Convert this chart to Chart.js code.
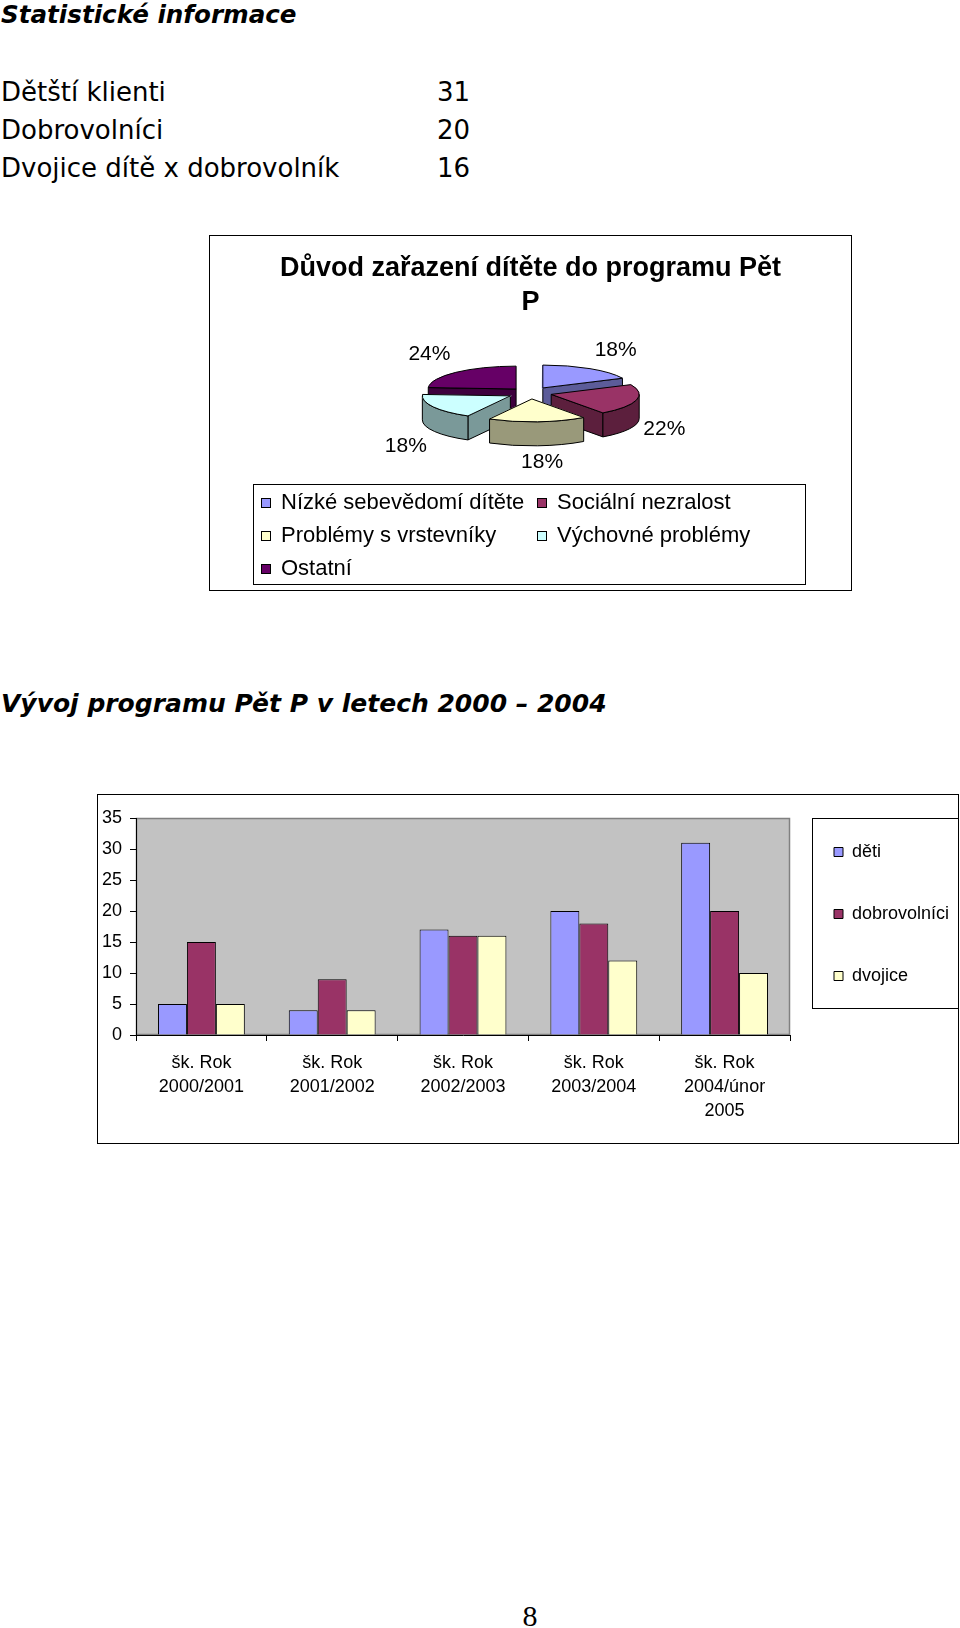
<!DOCTYPE html>
<html lang="cs">
<head>
<meta charset="utf-8">
<title>Statistické informace</title>
<script src="https://cdn.jsdelivr.net/npm/chart.js@4.4.1/dist/chart.umd.min.js"></script>
<style>
  html, body { margin: 0; padding: 0; background: #fff; }
  body { width: 960px; height: 1628px; position: relative; overflow: hidden; color: #000; }
  .head { position: absolute; left: 1px; margin: 0; white-space: nowrap;
          font: italic bold 24px/28px "DejaVu Sans", sans-serif; }
  .stat { position: absolute; left: 1px; width: 469px; display: flex; justify-content: space-between;
          font: 26px/30px "DejaVu Sans", sans-serif; white-space: nowrap; }
  .box { position: absolute; border: 1px solid #000; background: #fff; }
  .box canvas { position: absolute; left: 0; top: 0; }
  #pieLegend { position: absolute; left: 43px; top: 248px; width: 544px; height: 99px;
               border: 1px solid #000; padding: 0 0 0 7px;
               display: grid; grid-template-columns: 276px auto; grid-auto-rows: 33px;
               font: 22px/33px "Liberation Sans", Arial, sans-serif; white-space: nowrap; }
  #pieLegend i { display: inline-block; width: 8px; height: 8px; border: 1px solid #000;
                 margin-right: 10px; vertical-align: 1px; }
  #page { position: absolute; left: 0; width: 1060px; text-align: center; top: 1599px;
          font: 30px/33px "Liberation Serif", "Times New Roman", serif; }
</style>
</head>
<body>

<h1 class="head" style="top:1px; font-size:24.6px">Statistické informace</h1>
<div id="stats"></div>

<div class="box" id="pieBox" style="left:209px; top:235px; width:641px; height:354px;">
  <canvas id="pie" width="641" height="257"></canvas>
  <div id="pieLegend"></div>
</div>

<h2 class="head" style="top:690px; font-size:25px">Vývoj programu Pět P v letech 2000 – 2004</h2>

<div class="box" id="barBox" style="left:97px; top:794px; width:860px; height:348px;">
  <canvas id="bar" width="860" height="348"></canvas>
</div>

<div id="page">8</div>

<script>
// souhrnná čísla
const statLabels = ['Dětští klienti', 'Dobrovolníci', 'Dvojice dítě x dobrovolník'];
const statValues = [31, 20, 16];

// koláč - důvod zařazení
const pieLabels = ['Nízké sebevědomí dítěte', 'Sociální nezralost', 'Problémy s vrstevníky',
                   'Výchovné problémy', 'Ostatní'];
const pieValues = [18, 22, 18, 18, 24];

// sloupce - vývoj programu
const barLabels = [['šk. Rok', '2000/2001'], ['šk. Rok', '2001/2002'], ['šk. Rok', '2002/2003'],
                   ['šk. Rok', '2003/2004'], ['šk. Rok', '2004/únor', '2005']];
const deti = [5, 4, 17, 20, 31];
const dobrovolnici = [15, 9, 16, 18, 20];
const dvojice = [5, 4, 16, 12, 10];
const yTicks = [0, 5, 10, 15, 20, 25, 30, 35];

const pieColors = ['#9999FF', '#993366', '#FFFFCC', '#CCFFFF', '#660066'];
const pieSides = ['#5C5C99', '#5C1F3D', '#99997A', '#7A9999', '#3D003D'];
const SQUISH = 0.26;   // vertical flattening of the pie
const DEPTH = 24;      // thickness of the pie in px

Chart.defaults.font.family = '"Liberation Sans", Arial, sans-serif';
Chart.defaults.color = '#000';

function init() {
  let stats = document.getElementById('stats');
  for (let i = 0; i < statLabels.length; i++) {
    stats.innerHTML += '<div class="stat" style="top:' + (77 + i * 38) + 'px"><span>' +
      statLabels[i] + '</span><span>' + statValues[i] + '</span></div>';
  }

  let legend = document.getElementById('pieLegend');
  for (let i = 0; i < pieLabels.length; i++) {
    legend.innerHTML += '<div><i style="background:' + pieColors[i] + '"></i>' + pieLabels[i] + '</div>';
  }

  drawPie();
  drawBars();
}

function slice(arc) {
  // same displacement the arc element applies for its offset
  let mid = (arc.startAngle + arc.endAngle) / 2;
  let circ = arc.endAngle - arc.startAngle;
  let off = (arc.options.offset || 0) / 4;
  let t = off * (2 - Math.sin(Math.min(Math.PI, circ)));
  return {
    x: arc.x + Math.cos(mid) * t,
    y: arc.y + Math.sin(mid) * t * SQUISH,
    r: arc.outerRadius, s: arc.startAngle, e: arc.endAngle, mid: mid, t: t
  };
}

function clamp(v, lo, hi) {
  return Math.max(lo, Math.min(hi, v));
}

const pie3d = {
  id: 'pie3d',
  beforeDatasetsDraw(chart) {
    let ctx = chart.ctx;
    let arcs = chart.getDatasetMeta(0).data;
    let order = arcs.map((a, i) => i).sort((a, b) => {
      return Math.sin(slice(arcs[a]).mid) - Math.sin(slice(arcs[b]).mid);
    });
    ctx.save();
    ctx.strokeStyle = '#000';
    ctx.lineWidth = 1;
    ctx.lineJoin = 'round';
    for (let i of order) {
      let p = slice(arcs[i]);
      let ry = p.r * SQUISH;
      ctx.fillStyle = pieSides[i];
      // radial walls
      [[p.s, Math.cos(p.s) < -0.01], [p.e, Math.cos(p.e) > 0.01]].forEach(([a, visible]) => {
        if (!visible) return;
        let ex = p.x + Math.cos(a) * p.r, ey = p.y + Math.sin(a) * ry;
        ctx.beginPath();
        ctx.moveTo(p.x, p.y);
        ctx.lineTo(ex, ey);
        ctx.lineTo(ex, ey + DEPTH);
        ctx.lineTo(p.x, p.y + DEPTH);
        ctx.closePath();
        ctx.fill();
        ctx.stroke();
      });
      // curved wall, front half only
      let vs = Math.max(p.s, 0), ve = Math.min(p.e, Math.PI);
      if (vs < ve) {
        ctx.beginPath();
        ctx.ellipse(p.x, p.y, p.r, ry, 0, vs, ve);
        ctx.ellipse(p.x, p.y + DEPTH, p.r, ry, 0, ve, vs, true);
        ctx.closePath();
        ctx.fill();
        ctx.stroke();
      }
    }
    ctx.restore();

    // flatten the top faces drawn by chart.js
    let cy = arcs[0].y;
    ctx.save();
    ctx.translate(0, cy);
    ctx.scale(1, SQUISH);
    ctx.translate(0, -cy);
  },
  afterDatasetsDraw(chart) {
    let ctx = chart.ctx;
    ctx.restore();
    let arcs = chart.getDatasetMeta(0).data;
    let total = pieValues.reduce((a, b) => a + b, 0);
    ctx.save();
    ctx.strokeStyle = '#000';
    ctx.lineWidth = 1;
    ctx.lineJoin = 'round';
    ctx.font = '21px "Liberation Sans", Arial, sans-serif';
    ctx.fillStyle = '#000';
    ctx.textAlign = 'center';
    ctx.textBaseline = 'middle';
    arcs.forEach((arc, i) => {
      let p = slice(arc);
      ctx.beginPath();
      ctx.moveTo(p.x, p.y);
      ctx.ellipse(p.x, p.y, p.r, p.r * SQUISH, 0, p.s, p.e);
      ctx.closePath();
      ctx.stroke();

      let text = Math.round(pieValues[i] / total * 100) + '%';
      let hw = ctx.measureText(text).width / 2 + 2;
      let c = Math.cos(p.mid), s = Math.sin(p.mid);
      let R = p.r + p.t + 5;
      let lx = arc.x + c * R + hw * clamp(3 * c, -1, 1);
      let ly = arc.y + s * R * SQUISH + DEPTH * clamp(3 * s, 0, 1) + (s < 0 ? 17 : 15) * clamp(3 * s, -1, 1);
      ctx.fillText(text, lx, ly);
    });
    ctx.restore();
  }
};

function drawPie() {
  let ctx = document.getElementById('pie').getContext('2d');
  new Chart(ctx, {
    type: 'pie',
    data: {
      labels: pieLabels,
      datasets: [{
        data: pieValues,
        backgroundColor: pieColors,
        borderWidth: 0,
        offset: 84
      }]
    },
    options: {
      responsive: false,
      animation: false,
      events: [],
      radius: 88,
      layout: {padding: {top: 0, bottom: 27}},
      plugins: {
        legend: {display: false},
        tooltip: {enabled: false},
        title: {
          display: true,
          text: ['Důvod zařazení dítěte do programu Pět', 'P'],
          color: '#000',
          font: {size: 27, weight: 'bold', lineHeight: 34 / 27},
          padding: {top: 16, bottom: 0}
        }
      }
    },
    plugins: [pie3d]
  });
}

const plotBg = {
  id: 'plotBg',
  beforeDraw(chart) {
    let {ctx, chartArea: a} = chart;
    ctx.save();
    ctx.fillStyle = '#C2C2C2';
    ctx.fillRect(a.left, a.top, a.right - a.left, a.bottom - a.top);
    ctx.strokeStyle = '#808080';
    ctx.lineWidth = 1.5;
    ctx.strokeRect(a.left + 0.5, a.top + 0.5, a.right - a.left - 1, a.bottom - a.top - 1);
    ctx.restore();
  }
};

const legendFrame = {
  id: 'legendFrame',
  afterLayout(chart) {
    // the legend items sit higher than chart.js would centre them
    chart.legend.top = chart.chartArea.top - 19;
  },
  afterDraw(chart) {
    let {ctx, chartArea: a, legend} = chart;
    let boxes = legend.legendHitBoxes;
    let last = boxes[boxes.length - 1];
    let x0 = a.right + 22.5, y0 = a.top + 0.5;
    let y1 = last.top + last.height + 23.5;
    ctx.save();
    ctx.strokeStyle = '#000';
    ctx.lineWidth = 1;
    ctx.strokeRect(x0, y0, chart.width - x0 + 5, y1 - y0);
    ctx.restore();
  }
};

function drawBars() {
  let ctx = document.getElementById('bar').getContext('2d');
  let series = [['děti', deti, '#9999FF'], ['dobrovolníci', dobrovolnici, '#993366'], ['dvojice', dvojice, '#FFFFCC']];
  new Chart(ctx, {
    type: 'bar',
    data: {
      labels: barLabels,
      datasets: series.map(s => ({
        label: s[0],
        data: s[1],
        backgroundColor: s[2],
        borderColor: '#000',
        borderWidth: 1,
        barPercentage: 1,
        categoryPercentage: 0.664
      }))
    },
    options: {
      responsive: false,
      animation: false,
      events: [],
      layout: {padding: {top: 23, left: 0, right: 0, bottom: 0}},
      scales: {
        x: {
          grid: {display: true, drawOnChartArea: false, drawTicks: true, tickLength: 6, color: '#000'},
          border: {color: '#000', width: 1},
          ticks: {font: {size: 18, lineHeight: 24 / 18}, padding: 10, maxRotation: 0, autoSkip: false},
          afterFit(scale) { scale.height = 108; }
        },
        y: {
          min: 0,
          max: 35,
          afterBuildTicks(scale) { scale.ticks = yTicks.map(v => ({value: v})); },
          grid: {display: true, drawOnChartArea: false, drawTicks: true, tickLength: 6, color: '#000'},
          border: {color: '#000', width: 1},
          ticks: {font: {size: 18}, padding: 8},
          afterFit(scale) { scale.width = 38; }
        }
      },
      plugins: {
        tooltip: {enabled: false},
        legend: {
          position: 'right',
          align: 'start',
          fullSize: true,
          maxWidth: 168,
          labels: {boxWidth: 9, boxHeight: 9, padding: 44, font: {size: 18}, color: '#000'}
        }
      }
    },
    plugins: [plotBg, legendFrame]
  });
}

init();
</script>
</body>
</html>
